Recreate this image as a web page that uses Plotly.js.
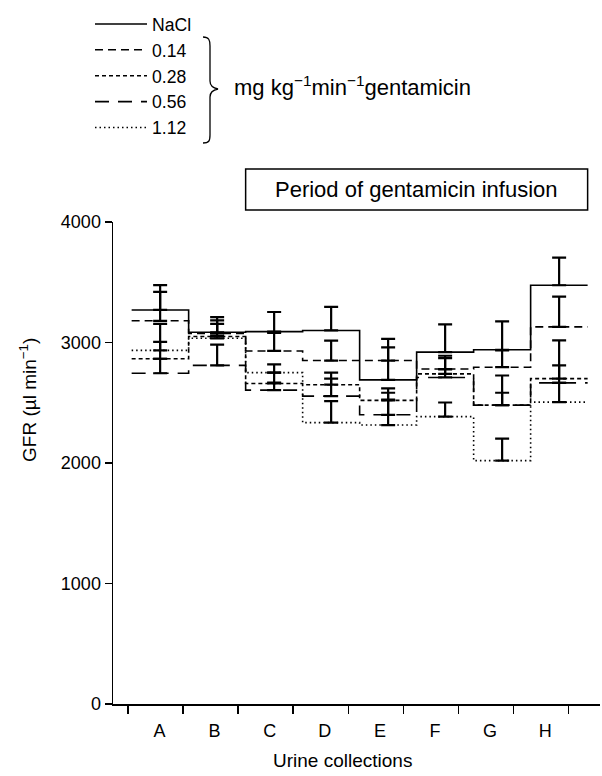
<!DOCTYPE html>
<html>
<head>
<meta charset="utf-8">
<script src="https://cdn.plot.ly/plotly-3.0.1.min.js"></script>
<style>html,body{margin:0;padding:0;background:#fff;}#chart{width:602px;height:776px;}</style>
</head>
<body>
<div id="chart"></div>
<script>
// ---- data (GFR, µl min-1) ----
const categories = ['A', 'B', 'C', 'D', 'E', 'F', 'G', 'H'];
const seriesNames = ['NaCl', '0.14', '0.28', '0.56', '1.12'];
const nacl   = [3270, 3085, 3090, 3100, 2690, 2920, 2940, 3475];
const g014   = [3180, 3075, 2930, 2850, 2850, 2780, 2795, 3130];
const g028   = [2865, 3050, 2660, 2650, 2520, 2740, 2480, 2700];
const g056   = [2745, 2810, 2605, 2555, 2400, 2710, 2480, 2665];
const g112   = [2935, 3035, 2750, 2335, 2315, 2385, 2020, 2505];
const naclErr = [206, 125, 163, 195, 270, 230, 235, 230];
const g014Err = [240, 108, 150, 165, 180, 110, 140, 250];
const g028Err = [140, 105, 90, 100, 100, 130, 246, 317];
const g056Err = [120, 173, 62, 145, 183, 66, 103, 145];
const g112Err = [220, 20, 68, 178, 212, 117, 183, 160];
const yTicks = [0, 1000, 2000, 3000, 4000];

// ---- styles ----
const FONT = 'Liberation Sans, Arial, sans-serif';
const dashes = ['solid', '8px,5px', '4px,3px', '14px,9px', '1.5px,3px'];
const vals = [nacl, g014, g028, g056, g112];
const errs = [naclErr, g014Err, g028Err, g056Err, g112Err];

const traces = [];
vals.forEach((v, s) => {
  const xs = categories.map((c, i) => i).concat([categories.length]);
  const ys = v.concat([v[v.length - 1]]);
  traces.push({
    type: 'scatter', mode: 'lines', name: seriesNames[s],
    x: xs, y: ys, line: {shape: 'hv', color: '#000', width: 1.6, dash: dashes[s]},
    hoverinfo: 'skip'
  });
});
vals.forEach((v, s) => {
  traces.push({
    type: 'scatter', mode: 'markers', showlegend: false,
    x: categories.map((c, i) => i + 0.5), y: v,
    marker: {size: 1, color: 'rgba(0,0,0,0)'},
    error_y: {type: 'data', symmetric: false, array: errs[s], arrayminus: v.map(() => 0),
              color: '#000', thickness: 2.2, width: 7},
    hoverinfo: 'skip'
  });
});
// invisible trace to carry the label axis
traces.push({type: 'scatter', mode: 'markers', x: [0], y: [0], xaxis: 'x2', showlegend: false,
  marker: {size: 1, color: 'rgba(0,0,0,0)'}, hoverinfo: 'skip'});

// layout geometry helpers (pixel -> paper)
const L = 113, R = 2, T = 222, B = 72, W = 602, H = 776;
const pw = W - L - R, ph = H - T - B;
const px = p => (p - L) / pw;
const py = p => (H - B - p) / ph;

const xRange = [-0.327, 8.217];
const tick0 = -0.065, dtick = 0.9667;
const boundaryTicks = [];
for (let k = 0; k <= categories.length; k++) boundaryTicks.push(tick0 + k * dtick);
const labelPos = categories.map((c, k) => tick0 + (k + 0.5) * dtick + 0.07);

const bracePts = [[203,37],[209,37],[210,40],[210,46],[210,81],[210,86],[213,88],[218,89],
                  [213,90],[210,92],[210,97],[210,135],[210,141],[209,143],[203,143]];
const P = i => px(bracePts[i][0]).toFixed(5) + ',' + py(bracePts[i][1]).toFixed(5);
const bracePath = 'M' + P(0) + ' C' + P(1) + ' ' + P(2) + ' ' + P(3) + ' L' + P(4) +
  ' C' + P(5) + ' ' + P(6) + ' ' + P(7) + ' C' + P(8) + ' ' + P(9) + ' ' + P(10) +
  ' L' + P(11) + ' C' + P(12) + ' ' + P(13) + ' ' + P(14);

const layout = {
  width: W, height: H,
  margin: {l: L, r: R, t: T, b: B},
  paper_bgcolor: '#fff', plot_bgcolor: '#fff',
  font: {family: FONT, size: 18, color: '#000'},
  showlegend: true,
  legend: {x: px(90), xanchor: 'left', y: py(6), yanchor: 'top', bgcolor: 'rgba(0,0,0,0)',
           font: {family: FONT, size: 17.6, color: '#000'}, itemwidth: 52, tracegroupgap: 0},
  xaxis: {range: xRange, showline: true, linecolor: '#000', linewidth: 1.5,
          ticks: 'outside', ticklen: 8, tickwidth: 1.5, tickcolor: '#000',
          tickvals: boundaryTicks, showticklabels: false, showgrid: false, zeroline: false, fixedrange: true},
  xaxis2: {range: xRange, overlaying: 'x', anchor: 'y', side: 'bottom', showline: false,
           ticks: '', tickvals: labelPos, ticktext: categories, ticklabelstandoff: 14,
           tickfont: {family: FONT, size: 18, color: '#000'},
           showgrid: false, zeroline: false, fixedrange: true},
  yaxis: {range: [0, 4000], showline: true, linecolor: '#000', linewidth: 1.5,
          ticks: 'outside', ticklen: 7, tickwidth: 1.5, tickcolor: '#000',
          tickvals: yTicks, ticktext: yTicks.map(String),
          tickfont: {family: FONT, size: 18, color: '#000'},
          showgrid: false, zeroline: false, fixedrange: true},
  shapes: [
    {type: 'rect', xref: 'x', yref: 'paper', x0: 2, x1: 8, y0: py(210), y1: py(169),
     line: {color: '#000', width: 1.5}, fillcolor: 'rgba(0,0,0,0)'},
    {type: 'path', xref: 'paper', yref: 'paper', path: bracePath, line: {color: '#000', width: 1.3}}
  ],
  annotations: [
    {text: 'Period of gentamicin infusion', xref: 'x', yref: 'paper', x: 5, y: py(189),
     xanchor: 'center', yanchor: 'middle',
     showarrow: false, font: {family: FONT, size: 22, color: '#000'}},
    {text: 'mg kg<sup>\u22121</sup>min<sup>\u22121</sup>gentamicin', xref: 'paper', yref: 'paper',
     x: px(232), y: py(86), xanchor: 'left', yanchor: 'middle',
     showarrow: false, font: {family: FONT, size: 22, color: '#000'}},
    {text: 'GFR (\u00b5l min<sup>\u22121</sup>)', xref: 'paper', yref: 'paper', x: px(28), y: py(400),
     xanchor: 'center', yanchor: 'middle',
     textangle: -90, showarrow: false, font: {family: FONT, size: 19, color: '#000'}},
    {text: 'Urine collections', xref: 'paper', yref: 'paper', x: px(342), y: py(760),
     xanchor: 'center', yanchor: 'middle',
     showarrow: false, font: {family: FONT, size: 19, color: '#000'}}
  ]
};

Plotly.newPlot('chart', traces, layout, {staticPlot: true, displayModeBar: false});
</script>
</body>
</html>
